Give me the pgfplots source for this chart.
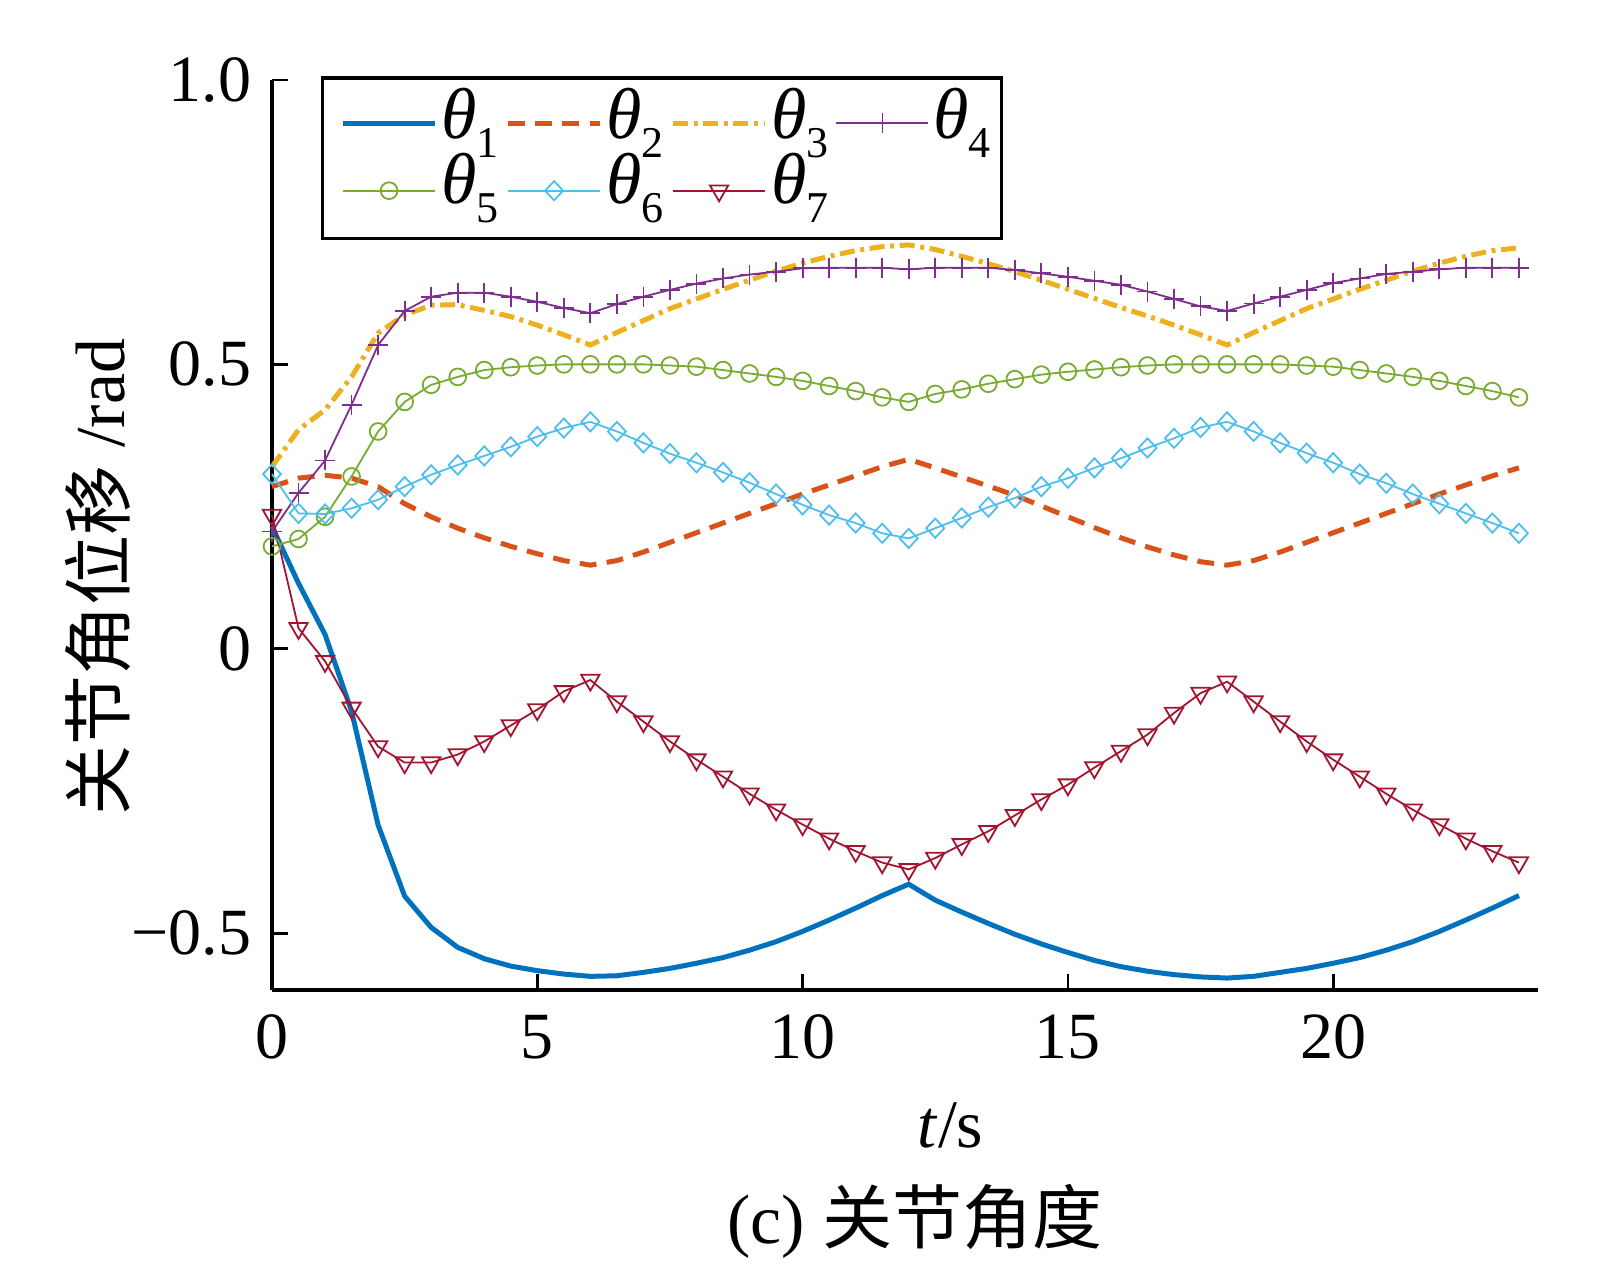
\documentclass[border=0pt]{standalone}
\usepackage{fontspec}
\setmainfont{Liberation Serif}
\newfontfamily\cjk{Noto Sans CJK SC}
\usepackage{pgfplots}
\pgfplotsset{compat=1.18}
\usepackage{pgfplotstable}

\definecolor{c1}{rgb}{0,0.447,0.741}
\definecolor{c2}{rgb}{0.85,0.325,0.098}
\definecolor{c3}{rgb}{0.929,0.694,0.125}
\definecolor{c4}{rgb}{0.494,0.184,0.556}
\definecolor{c5}{rgb}{0.466,0.674,0.188}
\definecolor{c6}{rgb}{0.301,0.745,0.933}
\definecolor{c7}{rgb}{0.635,0.078,0.184}

\newcommand{\legth}[1]{\makebox[12.5bp][l]{\rule[-3.5bp]{0pt}{15bp}\fontsize{18bp}{18bp}\selectfont\itshape θ\raisebox{-4.75bp}{\fontsize{11bp}{11bp}\selectfont\upshape #1}}}
\newcommand{\legthb}[1]{\makebox[12.5bp][l]{\rule[-6.3bp]{0pt}{15bp}\fontsize{18bp}{18bp}\selectfont\itshape θ\raisebox{-4.75bp}{\fontsize{11bp}{11bp}\selectfont\upshape #1}}}

\pgfplotstableread{
t a1 a2 a3 a4 a5 a6 a7
0 0.215 0.285 0.32 0.206 0.18 0.307 0.235
0.5 0.115 0.30 0.385 0.274 0.193 0.238 0.036
1 0.025 0.305 0.42 0.331 0.232 0.237 -0.022
1.5 -0.11 0.30 0.478 0.429 0.303 0.247 -0.104
2 -0.31 0.285 0.555 0.534 0.382 0.262 -0.172
2.5 -0.435 0.255 0.587 0.594 0.434 0.285 -0.2
3 -0.49 0.232 0.604 0.619 0.464 0.306 -0.2
3.5 -0.525 0.212 0.605 0.626 0.478 0.323 -0.186
4 -0.545 0.195 0.595 0.626 0.49 0.339 -0.163
4.5 -0.558 0.18 0.584 0.619 0.495 0.355 -0.135
5 -0.566 0.167 0.569 0.61 0.498 0.373 -0.107
5.5 -0.572 0.155 0.552 0.599 0.5 0.388 -0.075
6 -0.576 0.147 0.534 0.59 0.5 0.399 -0.055
6.5 -0.575 0.155 0.556 0.606 0.5 0.382 -0.093
7 -0.569 0.17 0.577 0.619 0.5 0.362 -0.128
7.5 -0.562 0.187 0.598 0.631 0.498 0.343 -0.163
8 -0.553 0.204 0.615 0.642 0.496 0.327 -0.195
8.5 -0.543 0.221 0.632 0.651 0.49 0.31 -0.225
9 -0.53 0.238 0.648 0.658 0.484 0.292 -0.255
9.5 -0.515 0.255 0.664 0.663 0.478 0.272 -0.283
10 -0.497 0.272 0.678 0.669 0.471 0.253 -0.309
10.5 -0.477 0.288 0.69 0.67 0.462 0.235 -0.334
11 -0.456 0.304 0.70 0.67 0.453 0.221 -0.356
11.5 -0.434 0.32 0.707 0.67 0.442 0.203 -0.376
12 -0.414 0.333 0.71 0.667 0.434 0.194 -0.388
12.5 -0.442 0.318 0.702 0.67 0.448 0.212 -0.368
13 -0.463 0.302 0.69 0.67 0.456 0.23 -0.344
13.5 -0.483 0.286 0.677 0.67 0.466 0.249 -0.321
14 -0.502 0.27 0.663 0.666 0.474 0.265 -0.293
14.5 -0.519 0.251 0.648 0.66 0.482 0.285 -0.265
15 -0.534 0.232 0.632 0.654 0.487 0.30 -0.239
15.5 -0.548 0.213 0.616 0.647 0.491 0.318 -0.209
16 -0.559 0.195 0.60 0.64 0.495 0.335 -0.18
16.5 -0.567 0.179 0.585 0.628 0.498 0.353 -0.151
17 -0.573 0.165 0.569 0.615 0.5 0.37 -0.113
17.5 -0.577 0.153 0.552 0.602 0.5 0.389 -0.078
18 -0.579 0.147 0.534 0.594 0.5 0.399 -0.058
18.5 -0.576 0.155 0.556 0.607 0.5 0.382 -0.093
19 -0.569 0.17 0.577 0.619 0.5 0.362 -0.128
19.5 -0.562 0.187 0.598 0.631 0.498 0.344 -0.163
20 -0.553 0.204 0.615 0.643 0.496 0.327 -0.195
20.5 -0.543 0.221 0.632 0.651 0.49 0.307 -0.225
21 -0.53 0.238 0.648 0.659 0.484 0.291 -0.255
21.5 -0.515 0.255 0.664 0.663 0.478 0.272 -0.283
22 -0.497 0.272 0.678 0.667 0.471 0.255 -0.309
22.5 -0.477 0.288 0.69 0.67 0.462 0.238 -0.334
23 -0.456 0.304 0.70 0.67 0.453 0.221 -0.356
23.5 -0.434 0.318 0.705 0.67 0.442 0.203 -0.376
}\datatable

\begin{document}
\begin{tikzpicture}
\begin{axis}[
  at={(0,0)}, anchor=south west,
  scale only axis, width=316.5bp, height=227.5bp,
  xmin=0, xmax=23.86, ymin=-0.6, ymax=1.0,
  axis x line*=bottom, axis y line*=left,
  axis line style={line width=1bp, black},
  xtick={0,5,10,15,20}, xticklabels={0,5,10,15,20},
  ytick={-0.5,0,0.5,1}, yticklabels={−0.5,0,0.5,1.0},
  /pgf/number format/assume math mode=true,
  tick align=inside, major tick length=4bp,
  every tick/.style={black, line width=0.7bp},
  tick label style={font=\fontsize{16.5bp}{16.5bp}\selectfont},
  xticklabel style={inner sep=0pt, anchor=north, yshift=-6bp},
  yticklabel style={inner sep=0pt, anchor=east, xshift=-5bp},
  xlabel={\textit{t}/s},
  xlabel style={at={(axis description cs:0.536,-0.149)}, anchor=center, font=\fontsize{17bp}{17bp}\selectfont},
  ylabel={{\cjk 关节角位移} /rad},
  ylabel style={at={(axis description cs:-0.1374,0.454)}, anchor=center, font=\fontsize{17.5bp}{17.5bp}\selectfont},
  clip=false,
  legend columns=4,
  legend cell align=left,
  legend image code/.code={\draw[mark repeat=2,mark phase=2] plot coordinates {(0bp,0bp) (11.5bp,0bp) (23bp,0bp)};},
  legend style={at={(axis description cs:0.0387,1.004)}, anchor=north west,
    draw=black, line width=0.8bp, fill=white,
    inner xsep=4.5bp, inner ysep=2.6bp,
    nodes={inner sep=0pt, text depth=},
    row sep=-1.3bp,
    /tikz/every odd column/.append style={column sep=1bp},
    /tikz/every even column/.append style={column sep=3.5bp}},
]
\addplot[c1, line width=1.25bp, no markers] table[x=t, y=a1] {\datatable};
\addlegendentry{\legth{1}}
\addplot[c2, line width=1.25bp, dash pattern=on 4.2bp off 2.6bp, no markers] table[x=t, y=a2] {\datatable};
\addlegendentry{\legth{2}}
\addplot[c3, line width=1.25bp, dash pattern=on 3.75bp off 1.4bp on 1bp off 1.4bp, no markers] table[x=t, y=a3] {\datatable};
\addlegendentry{\legth{3}}
\addplot[c4, line width=0.45bp, mark=+, mark size=2.5bp, mark options={solid, line width=0.45bp}] table[x=t, y=a4] {\datatable};
\addlegendentry{\legth{4}}
\addplot[c5, line width=0.45bp, mark=o, mark size=2.1bp, mark options={solid, line width=0.45bp}] table[x=t, y=a5] {\datatable};
\addlegendentry{\legthb{5}}
\addplot[c6, line width=0.45bp, mark=diamond, mark size=2.4bp, mark options={solid, line width=0.45bp, xscale=1.25}] table[x=t, y=a6] {\datatable};
\addlegendentry{\legthb{6}}
\addplot[c7, line width=0.45bp, mark=triangle, mark size=2.65bp, mark options={solid, line width=0.45bp, rotate=180}] table[x=t, y=a7] {\datatable};
\addlegendentry{\legthb{7}}
\end{axis}
\node[font=\fontsize{17.5bp}{17.5bp}\selectfont, anchor=center] at (160.75bp,-57.75bp) {(c) {\cjk 关节角度}};
\pgfresetboundingbox
\useasboundingbox (-68bp,-72.5bp) rectangle (334bp,247.5bp);
\end{tikzpicture}
\end{document}
